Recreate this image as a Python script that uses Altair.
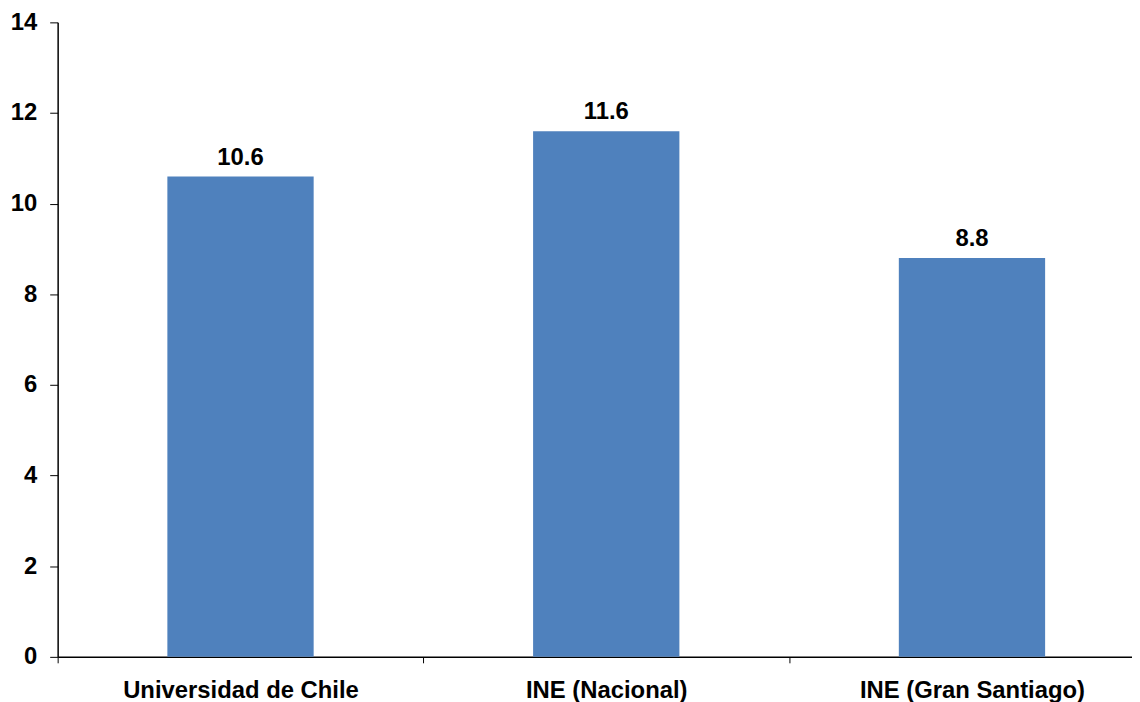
import altair as alt
import pandas as pd

FONT = "Liberation Sans"

categories = ["Universidad de Chile", "INE (Nacional)", "INE (Gran Santiago)"]
values = [10.6, 11.6, 8.8]
value_labels = ["10.6", "11.6", "8.8"]
y_ticks = [0, 2, 4, 6, 8, 10, 12, 14]

df = pd.DataFrame({"cat": categories, "val": values, "lab": value_labels})

x = alt.X(
    "cat:N", sort=categories, title=None,
    scale=alt.Scale(paddingInner=0, paddingOuter=0, range=[0, 1105]),
    axis=alt.Axis(labelAngle=0, labelFont=FONT, labelFontSize=24, labelFontWeight="bold",
                  labelColor="black", domainColor="black", domainWidth=1.5,
                  tickColor="black", tickSize=6, tickWidth=1, tickBand="extent",
                  labelPadding=16, labelLimit=0),
)
y = alt.Y(
    "val:Q", title=None,
    scale=alt.Scale(domain=[0, 14], nice=False),
    axis=alt.Axis(values=y_ticks, format="d", grid=False, labelFont=FONT, labelFontSize=24,
                  labelFontWeight="bold", labelColor="black", domainColor="black",
                  domainWidth=1.5, tickColor="black", tickSize=8, tickWidth=1,
                  labelPadding=13),
)

bars = alt.Chart(df).mark_bar(color="#4F81BD", width=alt.RelativeBandSize(0.4)).encode(x=x, y=y)
text = alt.Chart(df).mark_text(dy=-12, baseline="alphabetic", font=FONT, fontSize=24,
                               fontWeight="bold", color="black").encode(
    x=alt.X("cat:N", sort=categories), y="val:Q", text="lab:N")

chart = (bars + text).properties(
    width=1074, height=639,
    autosize=alt.AutoSizeParams(type="none"),
    padding={"left": 50, "top": 12, "right": 8, "bottom": 43},
).configure_view(stroke=None)

chart.save("out.html", embed_options={"renderer": "svg", "actions": False})
